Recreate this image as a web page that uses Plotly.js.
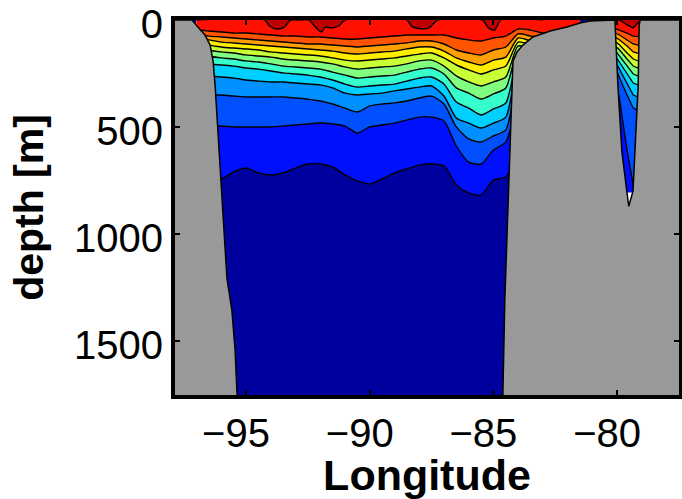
<!DOCTYPE html>
<html><head><meta charset="utf-8">
<script src="https://cdn.plot.ly/plotly-3.0.1.min.js"></script>
<style>html,body{margin:0;padding:0;background:#fff}#chart{width:682px;height:499px}</style>
</head><body><div id="chart"></div>
<script>
// Longitudes of the main-basin profile columns (deg E)
const basinLon = [-97,-96.5,-96,-95.5,-95,-94.5,-94,-93.5,-93,-92.5,-92,-91.5,-91,-90.5,-90,-89.5,-89,-88.5,-88,-87.5,-87,-86.5,-86,-85.5,-85,-84.5,-84,-83.5,-83,-82.5,-82,-81.5];
// Isotherm depths (m), warm (iso2) to cold (iso12)
const iso2  = [47,51,56,61,61,65,70,75,75,79,79,84,89,89,84,79,75,70,70,70,70,84,93,98,84,75,42,47,61,61,61,61];
const iso3  = [65,75,79,84,89,93,98,103,107,112,112,117,121,126,121,117,112,107,98,98,112,140,154,163,140,126,65,75,84,84,84,84];
const iso4  = [84,93,103,107,112,117,121,126,131,135,140,145,154,159,154,149,145,135,126,126,145,177,196,210,187,173,84,98,107,107,107,107];
const iso5  = [103,117,126,131,135,140,149,154,159,163,168,177,187,191,187,182,177,168,159,154,177,210,233,252,233,215,103,117,126,126,126,126];
const iso6  = [121,140,149,154,163,168,173,182,187,191,196,205,219,229,224,219,215,205,191,187,215,261,289,308,289,266,121,135,145,145,145,145];
const iso7  = [145,168,177,182,191,196,205,215,219,224,229,243,257,271,266,261,257,243,229,224,252,317,341,369,345,317,145,154,163,163,163,163];
const iso8  = [205,205,210,215,224,229,238,247,252,257,266,280,299,313,308,303,299,285,271,266,299,383,411,443,415,387,187,177,187,187,187,187];
const iso9  = [261,261,266,271,280,285,289,289,294,299,303,317,341,350,345,341,331,322,313,308,355,457,481,504,481,453,224,205,215,215,215,215];
const iso10 = [345,350,350,355,359,359,359,359,364,369,378,392,411,429,401,392,387,378,364,355,392,499,555,569,541,513,280,243,252,252,252,252];
const iso11 = [495,495,495,499,499,499,499,495,490,485,481,485,495,527,499,490,481,467,453,453,471,588,663,672,607,569,373,289,299,299,299,299];
const iso12 = [747,747,742,709,691,714,723,714,691,672,672,686,723,751,765,742,714,695,677,672,681,770,807,817,747,733,607,420,397,397,397,397];
// Warmest isotherm: only dips below the surface in patches
const iso1Lon = [-97,-94.25,-94.05,-93.75,-93.45,-93.2,-92.9,-92.45,-92.2,-91.95,-91.8,-91.55,-91.25,-91.0,-88.5,-88.3,-88.0,-87.6,-87.25,-85.45,-85.2,-84.95,-84.7,-83];
const iso1    = [0,0,28,42,33,0,0,0,33,56,33,37,28,0,0,30,40,37,0,0,37,47,0,0];

// Narrow trench near 79.5 W
const trenchLon = [-80.15,-79.9,-79.6,-79.35,-79.05];
const tIso1  = [0,0,23,37,0];
const tIso2  = [37,47,61,75,79];
const tIso3  = [56,70,93,112,121];
const tIso4  = [75,93,121,149,159];
const tIso5  = [93,117,154,182,196];
const tIso6  = [112,140,182,215,229];
const tIso7  = [131,168,215,252,266];
const tIso8  = [154,196,252,294,308];
const tIso9  = [177,233,299,350,364];
const tIso10 = [196,271,350,411,429];
const tIso11 = [233,373,607,770,793];
const tIso12 = [910,910,910,910,910];
// No-data patch at the trench bottom
const gapLon   = [-79.8,-79.25,-79.25,-79.8];
const gapDepth = [805,805,950,950];

// Bathymetry outlines (lon, depth m)
const westLandLon   = [-98,-97.18,-96.98,-96.66,-96.45,-96.33,-96.25,-96.17,-96.09,-95.97,-95.85,-95.77,-95.57,-95.44,-95.36,-95.33,-98];
const westLandDepth = [0,0,28,70,117,192,304,458,612,841,1042,1206,1355,1542,1752,1800,1800];
const eastLandLon   = [-84.64,-84.62,-84.54,-84.41,-84.29,-84.21,-84.05,-83.81,-83.40,-82.71,-82.03,-81.5,-81.1,-80.09,-79.97,-79.89,-79.81,-79.61,-79.53,-79.36,-79.28,-79.19,-79.15,-79.11,-79.07,-77,-77,-84.64];
const eastLandDepth = [1800,1752,1308,888,467,192,150,117,79,51,33,14,5,0,304,458,612,799,869,799,612,458,304,28,0,0,1800,1800];

// Band colours (band lying above each isotherm), cold to warm
const bandColors = ['#0010FF','#0050FF','#0090FF','#00D0FF','#36FFCC','#80FF80','#C8FF36','#FFED00','#FFA000','#FF5500','#FF1000','#C00000'];
const deepColor = '#00009F';
const landColor = '#999999';

const basinIsos  = [iso12,iso11,iso10,iso9,iso8,iso7,iso6,iso5,iso4,iso3,iso2];
const trenchIsos = [tIso12,tIso11,tIso10,tIso9,tIso8,tIso7,tIso6,tIso5,tIso4,tIso3,tIso2];

const traces = [];
const lineStyle = {color:'#000', width:1.4, shape:'spline', smoothing:0.7};
basinIsos.forEach((d,i)=>traces.push({x:basinLon, y:d, mode:'lines', line:lineStyle, fill:'tozeroy', fillcolor:bandColors[i], hoverinfo:'skip'}));
traces.push({x:iso1Lon, y:iso1, mode:'lines', line:lineStyle, fill:'tozeroy', fillcolor:bandColors[11], hoverinfo:'skip'});
trenchIsos.forEach((d,i)=>traces.push({x:trenchLon, y:d, mode:'lines', line:{color:'#000',width:1.3}, fill:'tozeroy', fillcolor:bandColors[i], hoverinfo:'skip'}));
traces.push({x:trenchLon, y:tIso1, mode:'lines', line:{color:'#000',width:1.3}, fill:'tozeroy', fillcolor:bandColors[11], hoverinfo:'skip'});
traces.push({x:gapLon, y:gapDepth, mode:'lines', line:{width:0}, fill:'toself', fillcolor:'#FFFFFF', hoverinfo:'skip'});
traces.push({x:westLandLon, y:westLandDepth, mode:'lines', line:{color:'#000',width:1.5}, fill:'toself', fillcolor:landColor, hoverinfo:'skip'});
traces.push({x:eastLandLon, y:eastLandDepth, mode:'lines', line:{color:'#000',width:1.5}, fill:'toself', fillcolor:landColor, hoverinfo:'skip'});

const axisCommon = {showline:true, linewidth:4, linecolor:'#000', mirror:'ticks', ticks:'inside', ticklen:5, tickwidth:2, tickcolor:'#000', showgrid:false, zeroline:false, ticklabeloverflow:'allow', tickfont:{size:40, color:'#000'}};
const layout = {
  width:682, height:499,
  margin:{l:175, r:3, t:20, b:104},
  paper_bgcolor:'#FFFFFF', plot_bgcolor:deepColor,
  showlegend:false,
  font:{family:'Liberation Sans, Arial, sans-serif', color:'#000'},
  xaxis:Object.assign({}, axisCommon, {range:[-97.87,-77.5], tickvals:[-95,-90,-85,-80], ticklabelshift:-10,
    title:{text:'Longitude', font:{size:43, weight:700}, standoff:2}}),
  yaxis:Object.assign({}, axisCommon, {range:[1750,0], tickvals:[0,500,1000,1500], ticklabelshift:-4,
    title:{text:'depth [m]', font:{size:41, weight:700}, standoff:19}})
};
Plotly.newPlot('chart', traces, layout, {staticPlot:true, displayModeBar:false});
</script></body></html>
